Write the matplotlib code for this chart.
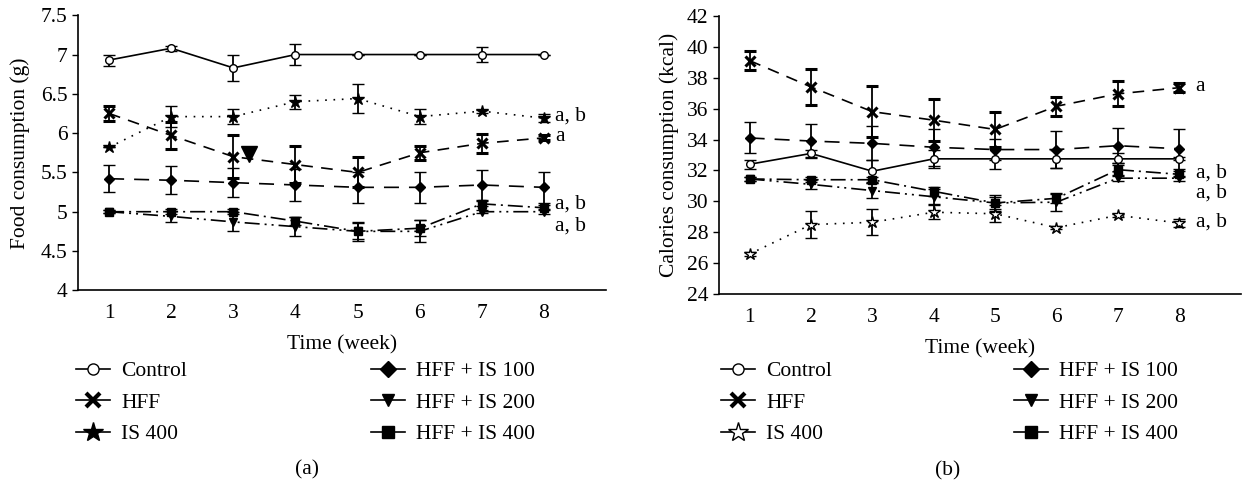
import matplotlib
matplotlib.use("Agg")
import matplotlib.pyplot as plt
from matplotlib.lines import Line2D

plt.rcParams['font.family'] = ['Liberation Serif', 'DejaVu Serif']

weeks = [1, 2, 3, 4, 5, 6, 7, 8]
group_names = ["Control", "HFF", "IS 400", "HFF + IS 100", "HFF + IS 200", "HFF + IS 400"]

# Panel (a): food consumption (g)
food_control = [6.93, 7.08, 6.83, 7.00, 7.00, 7.00, 7.00, 7.00]
food_control_err = [0.07, 0.03, 0.17, 0.13, 0.0, 0.0, 0.10, 0.0]
food_hff = [6.25, 5.97, 5.70, 5.60, 5.50, 5.75, 5.87, 5.94]
food_hff_err = [0.10, 0.17, 0.27, 0.23, 0.19, 0.09, 0.12, 0.03]
food_is400 = [5.82, 6.21, 6.21, 6.40, 6.44, 6.21, 6.28, 6.19]
food_is400_err = [0.0, 0.13, 0.10, 0.09, 0.19, 0.10, 0.02, 0.05]
food_hff_is100 = [5.42, 5.40, 5.37, 5.34, 5.31, 5.31, 5.34, 5.31]
food_hff_is100_err = [0.17, 0.18, 0.18, 0.20, 0.20, 0.20, 0.19, 0.20]
food_hff_is200 = [5.00, 4.94, 4.87, 4.81, 4.75, 4.75, 5.00, 5.00]
food_hff_is200_err = [0.02, 0.07, 0.12, 0.12, 0.12, 0.14, 0.02, 0.03]
food_hff_is400 = [5.00, 5.00, 5.00, 4.88, 4.75, 4.79, 5.10, 5.05]
food_hff_is400_err = [0.02, 0.03, 0.03, 0.05, 0.10, 0.10, 0.03, 0.03]
food_letters = ["a, b", "a", "a, b", "a, b"]
food_letter_y = [6.22, 5.96, 5.10, 4.82]
food_stray_triangle = (3.25, 5.73)

# Panel (b): calories consumption (kcal)
cal_control = [32.4, 33.1, 31.95, 32.75, 32.75, 32.75, 32.75, 32.75]
cal_control_err = [0.3, 0.25, 0.7, 0.6, 0.65, 0.6, 0.4, 0.1]
cal_hff = [39.1, 37.4, 35.8, 35.25, 34.65, 36.15, 36.95, 37.35]
cal_hff_err = [0.6, 1.15, 1.65, 1.35, 1.15, 0.6, 0.8, 0.3]
cal_is400 = [26.6, 28.5, 28.65, 29.3, 29.2, 28.3, 29.1, 28.6]
cal_is400_err = [0.1, 0.85, 0.85, 0.45, 0.55, 0.1, 0.1, 0.25]
cal_hff_is100 = [34.1, 33.9, 33.75, 33.5, 33.35, 33.35, 33.6, 33.4]
cal_hff_is100_err = [1.0, 1.1, 1.1, 1.2, 0.7, 1.2, 1.15, 1.3]
cal_hff_is200 = [31.45, 31.1, 30.7, 30.3, 29.9, 29.95, 31.5, 31.5]
cal_hff_is200_err = [0.1, 0.3, 0.5, 0.5, 0.5, 0.6, 0.2, 0.15]
cal_hff_is400 = [31.45, 31.4, 31.4, 30.65, 29.9, 30.2, 32.05, 31.75]
cal_hff_is400_err = [0.1, 0.15, 0.2, 0.3, 0.4, 0.3, 0.4, 0.2]
cal_letters = ["a", "a, b", "a, b", "a, b"]
cal_letter_y = [37.45, 31.85, 30.55, 28.65]

FS = 15.5

# marker / line style per group
styles = {
    "Control": dict(marker="o", mfc="white", ms=5.5, ls="-"),
    "HFF": dict(marker="x", mfc="black", ms=7, mew=2.2, ls=(0, (7, 5))),
    "IS 400": dict(marker="*", mfc="black", ms=9, ls=(0, (1, 4))),
    "HFF + IS 100": dict(marker="D", mfc="black", ms=5.5, ls=(0, (9, 6))),
    "HFF + IS 200": dict(marker="v", mfc="black", ms=6, ls=(0, (9, 3, 1.2, 3, 1.2, 3))),
    "HFF + IS 400": dict(marker="s", mfc="black", ms=5.5, ls=(0, (9, 3, 1.2, 3))),
}


def draw_panel(ax, series, open_star=False):
    for name, (vals, errs) in zip(group_names, series):
        st = dict(styles[name])
        if name == "IS 400" and open_star:
            st["mfc"] = "white"
        ax.errorbar(weeks, vals, yerr=errs, color="black", linestyle=st["ls"],
                    linewidth=1.2, marker=st["marker"], markersize=st["ms"],
                    markerfacecolor=st["mfc"], markeredgecolor="black",
                    markeredgewidth=st.get("mew", 1.0), ecolor="black",
                    elinewidth=1.3, capsize=4, capthick=1.3)
    ax.spines["top"].set_visible(False)
    ax.spines["right"].set_visible(False)
    ax.spines["left"].set_linewidth(1.2)
    ax.spines["bottom"].set_linewidth(1.2)
    ax.set_xlim(0.5, 9.0)
    ax.set_xticks(weeks)
    ax.tick_params(axis="x", length=0, labelsize=FS, pad=10)
    ax.tick_params(axis="y", direction="out", length=4, width=1, labelsize=FS)
    ax.set_xlabel("Time (week)", fontsize=FS, labelpad=9)


fig = plt.figure(figsize=(12.43, 4.92), dpi=100)
ax1 = fig.add_axes([0.0628, 0.410, 0.4248, 0.559])
ax2 = fig.add_axes([0.5784, 0.402, 0.4196, 0.566])

draw_panel(ax1, [(food_control, food_control_err), (food_hff, food_hff_err),
                 (food_is400, food_is400_err), (food_hff_is100, food_hff_is100_err),
                 (food_hff_is200, food_hff_is200_err), (food_hff_is400, food_hff_is400_err)])
ax1.plot([food_stray_triangle[0]], [food_stray_triangle[1]], marker="v", color="black", ms=11, ls="none")
ax1.set_ylim(4, 7.5)
ax1.set_yticks([4, 4.5, 5, 5.5, 6, 6.5, 7, 7.5])
ax1.set_yticklabels(["4", "4.5", "5", "5.5", "6", "6.5", "7", "7.5"])
ax1.set_ylabel("Food consumption (g)", fontsize=FS, labelpad=8)
for txt, y in zip(food_letters, food_letter_y):
    ax1.text(8.18, y, txt, fontsize=FS, va="center", ha="left")

draw_panel(ax2, [(cal_control, cal_control_err), (cal_hff, cal_hff_err),
                 (cal_is400, cal_is400_err), (cal_hff_is100, cal_hff_is100_err),
                 (cal_hff_is200, cal_hff_is200_err), (cal_hff_is400, cal_hff_is400_err)],
           open_star=True)
ax2.set_ylim(24, 42)
ax2.set_yticks(range(24, 43, 2))
ax2.set_ylabel("Calories consumption (kcal)", fontsize=FS, labelpad=6)
for txt, y in zip(cal_letters, cal_letter_y):
    ax2.text(8.27, y, txt, fontsize=FS, va="center", ha="left")


def legend_handles(names, open_star):
    handles = []
    for name in names:
        st = styles[name]
        mfc = st["mfc"]
        if name == "IS 400" and open_star:
            mfc = "white"
        ms = {"o": 8, "x": 10, "*": 15, "D": 8, "v": 9, "s": 8}[st["marker"]]
        handles.append(Line2D([0], [0], color="black", lw=1.2, marker=st["marker"],
                              markersize=ms, markerfacecolor=mfc, markeredgecolor="black",
                              markeredgewidth=3 if st["marker"] == "x" else 1.0, label=name))
    return handles


# one legend per column, placed under each panel
legend_x = [(76, 371, False), (721, 1014, True)]
for x_left, x_right, open_star in legend_x:
    for x_px, names in ((x_left, group_names[:3]), (x_right, group_names[3:])):
        fig.legend(handles=legend_handles(names, open_star), loc="upper left",
                   bbox_to_anchor=(x_px / 1243, 0.266), frameon=False, fontsize=FS,
                   handlelength=1.6, handletextpad=0.5, labelspacing=0.53, borderpad=0,
                   borderaxespad=0)

fig.text(0.247, 0.045, "(a)", fontsize=FS, ha="center", va="center")
fig.text(0.762, 0.043, "(b)", fontsize=FS, ha="center", va="center")

fig.savefig("out.png", dpi=100)
